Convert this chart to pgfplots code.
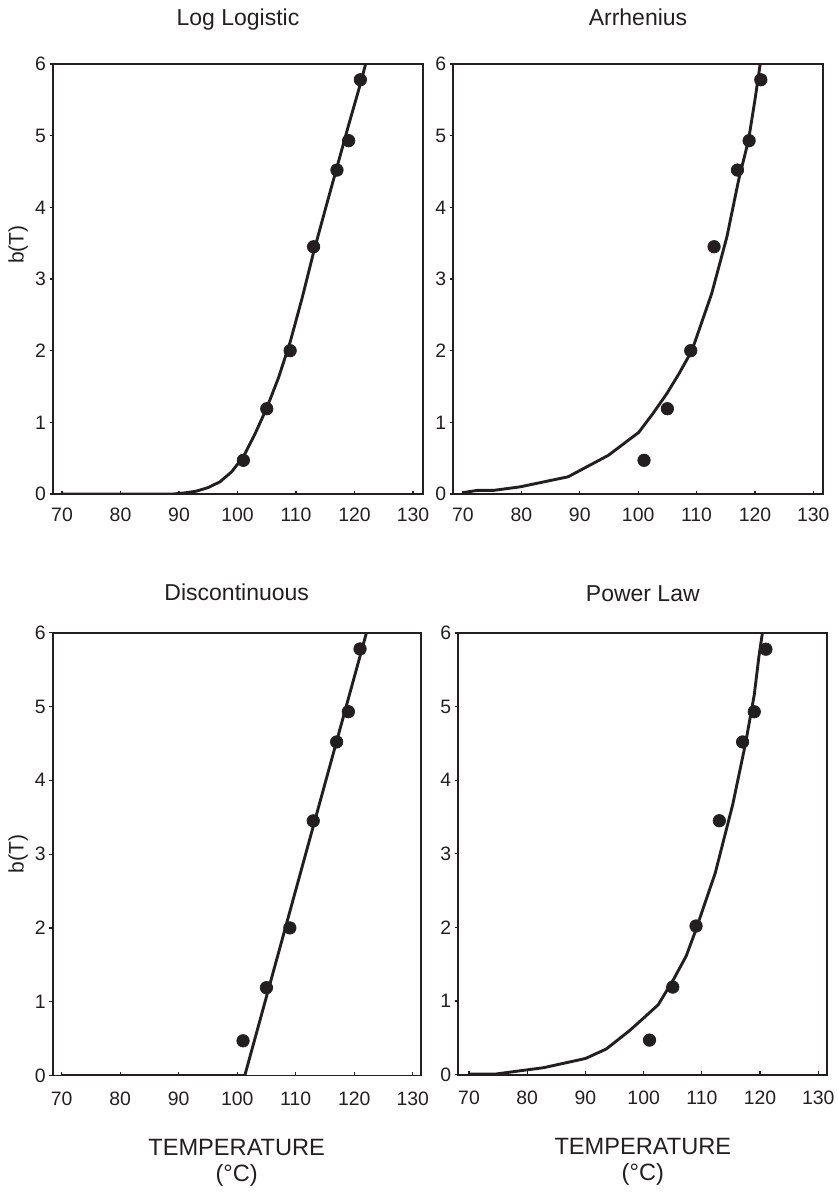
\documentclass[border=0pt]{standalone}
\usepackage{fontspec}
\setmainfont{Liberation Sans}
\usepackage{pgfplots}
\pgfplotsset{compat=1.18}
\definecolor{ink}{RGB}{35,31,32}
\pgfplotsset{
  panel/.style={
    scale only axis, anchor=south west,
    ymin=0, ymax=6, ytick={0,1,...,6}, xtick={70,80,...,130},
    axis line style={ink, line width=0.85pt},
    tick style={ink, line width=0.6pt},
    major tick length=1.6pt,
    tick align=inside,
    xtick pos=bottom, ytick pos=left,
    y tick style={xshift=-1.6pt},
    /pgf/number format/assume math mode=true,
    tick label style={font=\fontsize{9.7}{11}\selectfont, text=ink},
    title style={font=\fontsize{11.5}{13}\selectfont, text=ink, anchor=base, at={(axis description cs:0.5,1)}},
    ylabel style={font=\fontsize{10.5}{12}\selectfont, text=ink, anchor=center},
    xlabel style={font=\fontsize{11.8}{13}\selectfont, text=ink, anchor=north, align=center, at={(axis description cs:0.5,0)}},
  },
  fit/.style={ink, line width=1.45pt, mark=none},
  obs/.style={only marks, mark=*, mark size=3.1pt, ink, mark options={fill=ink, draw=ink}},
}
\begin{document}
\begin{tikzpicture}
% Top-left: Log Logistic
\begin{axis}[panel, at={(26.5pt,350pt)}, width=185pt, height=215pt,
  xmin=68.46, xmax=131.71,
  title={Log Logistic}, title style={yshift=13pt},
  xticklabel style={yshift=-3.3pt},
  ylabel={b(T)}, ylabel style={at={(axis description cs:-0.0938,0.58)}}]
\addplot[fit] coordinates {(70,0) (89,0) (91,0.015) (93,0.04) (95,0.09) (97,0.17) (99,0.31) (101,0.52) (103,0.84) (105,1.2) (107,1.62) (109,2.12) (111,2.72) (113,3.37) (115,3.97) (117,4.56) (119,5.15) (121,5.72) (121.9,6)};
\addplot[obs] coordinates {(101,0.47) (105,1.19) (109,2.0) (113,3.45) (117,4.52) (119,4.93) (121,5.78)};
\end{axis}
% Top-right: Arrhenius
\begin{axis}[panel, at={(226.65pt,350pt)}, width=184.7pt, height=215pt,
  xmin=68.34, xmax=131.6,
  title={Arrhenius}, title style={yshift=13pt},
  xticklabel style={yshift=-3.3pt}]
\addplot[fit] coordinates {(70.1,0.02) (72.4,0.05) (75.2,0.05) (79.8,0.1) (88,0.24) (94.9,0.54) (100.1,0.86) (102.5,1.12) (104.9,1.40) (107,1.68) (109.2,2.0) (112.6,2.8) (115.2,3.59) (117.2,4.38) (118.9,4.94) (120,5.5) (120.9,6.0)};
\addplot[obs] coordinates {(101,0.47) (105,1.19) (109,2.0) (113,3.45) (117,4.52) (119,4.93) (121,5.78)};
\end{axis}
% Bottom-left: Discontinuous
\begin{axis}[panel, at={(26.35pt,59.25pt)}, width=184pt, height=221.4pt,
  xmin=68.46, xmax=131.37,
  title={Discontinuous}, title style={yshift=10pt},
  xticklabel style={yshift=-4.8pt},
  ylabel={b(T)}, ylabel style={at={(axis description cs:-0.0935,0.5)}},
  xlabel={TEMPERATURE\\(°C)}, xlabel style={yshift=-28.4pt}]
\addplot[fit] coordinates {(70,0) (101.3,0) (122.1,6)};
\addplot[obs] coordinates {(101,0.47) (105,1.19) (109,2.0) (113,3.45) (117,4.52) (119,4.93) (121,5.78)};
\end{axis}
% Bottom-right: Power Law
\begin{axis}[panel, at={(229.15pt,59.65pt)}, width=184.5pt, height=220.85pt,
  xmin=68.16, xmax=131.55,
  title={Power Law}, title style={yshift=10pt},
  xticklabel style={yshift=-4.8pt},
  xlabel={TEMPERATURE\\(°C)}, xlabel style={yshift=-28.4pt}]
\addplot[fit] coordinates {(70,0.01) (74.7,0.01) (79.9,0.065) (82.8,0.095) (90,0.22) (93.6,0.35) (97.6,0.6) (100,0.77) (102.5,0.95) (105.1,1.29) (107.3,1.61) (108.8,1.93) (112.3,2.74) (115.3,3.67) (117.5,4.5) (119,5.16) (119.8,5.68) (120.4,6)};
\addplot[obs] coordinates {(101,0.47) (105,1.19) (109,2.02) (113,3.45) (117,4.52) (119,4.93) (121,5.78)};
\end{axis}
\pgfresetboundingbox
\path (0,0) rectangle (419pt,597pt);
\end{tikzpicture}
\end{document}
